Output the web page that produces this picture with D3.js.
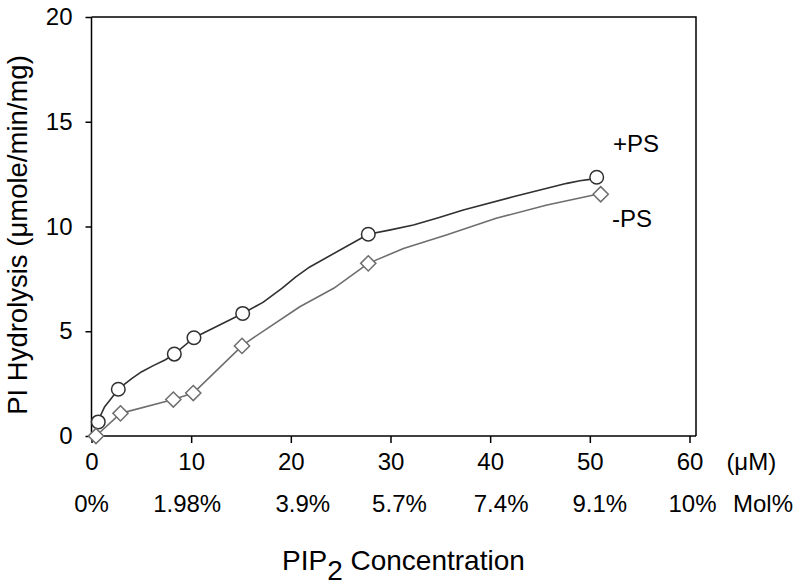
<!DOCTYPE html>
<html>
<head>
<meta charset="utf-8">
<script src="https://cdn.jsdelivr.net/npm/d3@7/dist/d3.min.js"></script>
<style>
  html, body { margin: 0; padding: 0; background: #fff; }
  svg { display: block; }
  text { font-family: "Liberation Sans", Arial, Helvetica, sans-serif; fill: #000; }
</style>
</head>
<body>
<svg id="chart" width="800" height="586"></svg>
<script>
// ---- data ----
const xTicks = [0, 10, 20, 30, 40, 50, 60];
const yTicks = [0, 5, 10, 15, 20];
const molLabels = ["0%", "1.98%", "3.9%", "5.7%", "7.4%", "9.1%", "10%"];
const molPos = [0, 9.6, 21.2, 30.9, 41.1, 51.0, 60.3];

// +PS measured points
const plusX = [0.68, 2.69, 8.31, 10.28, 15.17, 27.77, 50.69];
const plusY = [0.67, 2.23, 3.91, 4.69, 5.85, 9.63, 12.35];
// -PS measured points
const minusX = [0.45, 2.91, 8.21, 10.21, 15.1, 27.77, 51.09];
const minusY = [0.0, 1.08, 1.74, 2.05, 4.30, 8.24, 11.54];

// fitted curves drawn through the points
const plusFitX = [0.68, 0.85, 1.3, 1.86, 2.69, 3.19, 4.1, 5.04, 6.2, 7.37, 8.31, 10.28, 15.17, 17.2, 19.1, 20.5, 21.9, 27.77, 30.0, 32.3, 34.8, 37.3, 42.3, 47.7, 49.0, 50.0, 50.69];
const plusFitY = [0.67, 0.92, 1.38, 1.72, 2.23, 2.43, 2.76, 3.07, 3.36, 3.63, 3.91, 4.69, 5.85, 6.38, 7.05, 7.6, 8.07, 9.63, 9.84, 10.07, 10.42, 10.79, 11.42, 12.06, 12.18, 12.25, 12.35];
const minusFitX = [0.45, 2.91, 8.21, 10.21, 15.1, 15.9, 20.9, 24.3, 27.77, 31.3, 35.6, 40.6, 45.7, 50.4, 51.09];
const minusFitY = [0.0, 1.08, 1.74, 2.05, 4.30, 4.58, 6.17, 7.05, 8.24, 8.95, 9.59, 10.39, 11.03, 11.5, 11.54];

// ---- layout ----
const svg = d3.select("#chart");
const mLeft = 91.5, mRight = 696, mTop = 17, mBottom = 436;
const x = d3.scaleLinear().domain([0, 60]).range([mLeft, 689.5]);
const y = d3.scaleLinear().domain([0, 20]).range([mBottom, mTop]);

const black = "#000";
const plusColor = "#303030";
const minusColor = "#6e6e6e";

// frame top & right
svg.append("path")
  .attr("d", `M${mLeft},${mTop}H${mRight}V${mBottom}`)
  .attr("fill", "none").attr("stroke", black).attr("stroke-width", 1.5);

// x axis
const gx = svg.append("g").attr("transform", `translate(0,${mBottom})`)
  .call(d3.axisBottom(x).tickValues(xTicks).tickSize(7).tickPadding(10).tickFormat(d3.format("d")));
gx.select(".domain").attr("d", `M${mLeft},0H${mRight}`).attr("stroke-width", 1.5);
gx.selectAll(".tick line").attr("stroke-width", 1.5);
gx.selectAll(".tick text").attr("font-size", 24).attr("font-family", null);

// y axis
const gy = svg.append("g").attr("transform", `translate(${mLeft},0)`)
  .call(d3.axisLeft(y).tickValues(yTicks).tickSize(6).tickPadding(13).tickFormat(d3.format("d")));
gy.select(".domain").attr("d", `M0,${mTop}V${mBottom}`).attr("stroke-width", 1.5);
gy.selectAll(".tick line").attr("stroke-width", 1.5);
gy.selectAll(".tick text").attr("font-size", 24).attr("font-family", null);

// unit label
svg.append("text").attr("x", x(63.7)).attr("y", 470).attr("font-size", 24).text("(μM)");

// mol% row
svg.append("g").selectAll("text").data(molLabels).join("text")
  .attr("x", (d, i) => x(molPos[i])).attr("y", 512)
  .attr("text-anchor", "middle").attr("font-size", 24).text(d => d);
svg.append("text").attr("x", 733).attr("y", 512).attr("font-size", 24).text("Mol%");

// x title
const xt = svg.append("text").attr("x", 282).attr("y", 570).attr("font-size", 28);
xt.append("tspan").text("PIP");
xt.append("tspan").attr("dy", 10).text("2");
xt.append("tspan").attr("dy", -10).text(" Concentration");

// y title
svg.append("text")
  .attr("transform", `translate(27,235) rotate(-90)`)
  .attr("text-anchor", "middle").attr("font-size", 27.5)
  .text("PI Hydrolysis (μmole/min/mg)");

// lines
const line = d3.line().x(d => x(d[0])).y(d => y(d[1])).curve(d3.curveLinear);
svg.append("path").datum(plusFitX.map((v, i) => [v, plusFitY[i]]))
  .attr("d", line).attr("fill", "none").attr("stroke", plusColor).attr("stroke-width", 1.6)
  .attr("stroke-linejoin", "round");
svg.append("path").datum(minusFitX.map((v, i) => [v, minusFitY[i]]))
  .attr("d", line).attr("fill", "none").attr("stroke", minusColor).attr("stroke-width", 1.6)
  .attr("stroke-linejoin", "round");

// markers
svg.append("g").selectAll("circle").data(plusX.map((v, i) => [v, plusY[i]])).join("circle")
  .attr("cx", d => x(d[0])).attr("cy", d => y(d[1])).attr("r", 6.8)
  .attr("fill", "#fff").attr("stroke", plusColor).attr("stroke-width", 1.5);
const ds = 7.6;
svg.append("g").selectAll("path").data(minusX.map((v, i) => [v, minusY[i]])).join("path")
  .attr("d", d => { const cx = x(d[0]), cy = y(d[1]);
    return `M${cx},${cy - ds}L${cx + ds},${cy}L${cx},${cy + ds}L${cx - ds},${cy}Z`; })
  .attr("fill", "#fff").attr("stroke", minusColor).attr("stroke-width", 1.5);

// series labels
svg.append("text").attr("x", 613).attr("y", 152).attr("font-size", 24).text("+PS");
svg.append("text").attr("x", 612).attr("y", 227).attr("font-size", 24).text("-PS");
</script>
</body>
</html>
